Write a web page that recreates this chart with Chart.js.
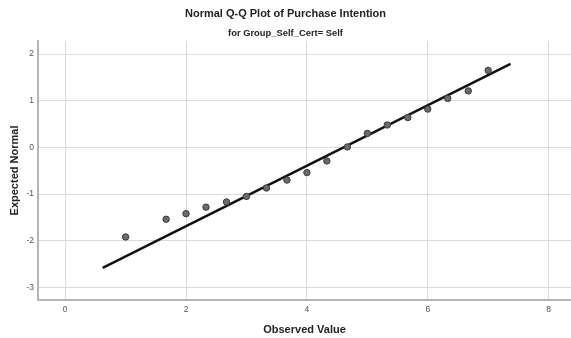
<!DOCTYPE html>
<html>
<head>
<meta charset="utf-8">
<title>Normal Q-Q Plot of Purchase Intention</title>
<script src="https://cdn.jsdelivr.net/npm/chart.js@4/dist/chart.umd.min.js"></script>
<style>
  html, body { margin: 0; padding: 0; background: #ffffff; }
  #wrap { width: 571px; height: 338px; position: relative; }
</style>
</head>
<body>
<div id="wrap"><canvas id="qq"></canvas></div>
<script>
// Observed scale scores and their expected normal quantiles
const observedValues = [1.00, 1.67, 2.00, 2.33, 2.67, 3.00, 3.33, 3.67, 4.00, 4.33, 4.67, 5.00, 5.33, 5.67, 6.00, 6.33, 6.67, 7.00];
const expectedNormal = [-1.92, -1.54, -1.42, -1.28, -1.17, -1.05, -0.87, -0.70, -0.54, -0.29, 0.01, 0.30, 0.48, 0.64, 0.82, 1.05, 1.21, 1.65];

// Reference line (normal distribution fitted to the sample)
const lineX = [0.62, 7.37];
const lineY = [-2.58, 1.79];

// Axis tick labels
const xTicks = [0, 2, 4, 6, 8];
const yTicks = [-3, -2, -1, 0, 1, 2];

const points = observedValues.map((x, i) => ({ x: x, y: expectedNormal[i] }));
const refLine = lineX.map((x, i) => ({ x: x, y: lineY[i] }));

const FONT = "'Liberation Sans', Arial, sans-serif";

new Chart(document.getElementById('qq'), {
  type: 'scatter',
  data: {
    datasets: [
      {
        label: 'Reference',
        type: 'line',
        data: refLine,
        borderColor: '#111111',
        borderWidth: 2.5,
        pointRadius: 0,
        fill: false,
        order: 2
      },
      {
        label: 'Observed',
        data: points,
        backgroundColor: '#6b6b6b',
        borderColor: '#3a3a3a',
        borderWidth: 1,
        pointRadius: 3.2,
        order: 1
      }
    ]
  },
  options: {
    responsive: true,
    maintainAspectRatio: false,
    animation: false,
    layout: { autoPadding: false, padding: { left: 0, right: 0, top: 0, bottom: 0 } },
    plugins: {
      legend: { display: false },
      tooltip: { enabled: false },
      title: {
        display: true,
        text: 'Normal Q-Q Plot of Purchase Intention',
        color: '#222222',
        font: { family: FONT, size: 11, weight: 'bold' },
        padding: { top: 7, bottom: 7.5 }
      },
      subtitle: {
        display: true,
        text: 'for Group_Self_Cert= Self',
        color: '#222222',
        font: { family: FONT, size: 9.4, weight: 'bold' },
        padding: { top: 0, bottom: 2 }
      }
    },
    scales: {
      x: {
        type: 'linear',
        min: -0.45,
        max: 8.37,
        afterBuildTicks: (scale) => { scale.ticks = xTicks.map(v => ({ value: v })); },
        afterFit: (scale) => {
          scale.height = 38;
          scale.paddingLeft = 0;
          scale.paddingRight = 0;
        },
        ticks: {
          color: '#555555',
          font: { family: FONT, size: 8.5 },
          padding: 5,
          maxRotation: 0
        },
        grid: { color: '#dadada', lineWidth: 1, drawTicks: false },
        border: { display: true, color: '#b5b5b5', width: 2 },
        title: {
          display: true,
          text: 'Observed Value',
          color: '#222222',
          font: { family: FONT, size: 11, weight: 'bold' },
          padding: { top: 0, bottom: 1 }
        }
      },
      y: {
        type: 'linear',
        min: -3.27,
        max: 2.28,
        afterBuildTicks: (scale) => { scale.ticks = yTicks.map(v => ({ value: v })); },
        afterFit: (scale) => {
          scale.width = 38;
          scale.paddingTop = 0;
          scale.paddingBottom = 0;
        },
        ticks: {
          color: '#555555',
          font: { family: FONT, size: 8.5 },
          padding: 4
        },
        grid: { color: '#dadada', lineWidth: 1, drawTicks: false },
        border: { display: true, color: '#b5b5b5', width: 2 },
        title: {
          display: true,
          text: 'Expected Normal',
          color: '#222222',
          font: { family: FONT, size: 11, weight: 'bold' },
          padding: { top: 8, bottom: 0 }
        }
      }
    }
  }
});
</script>
</body>
</html>
